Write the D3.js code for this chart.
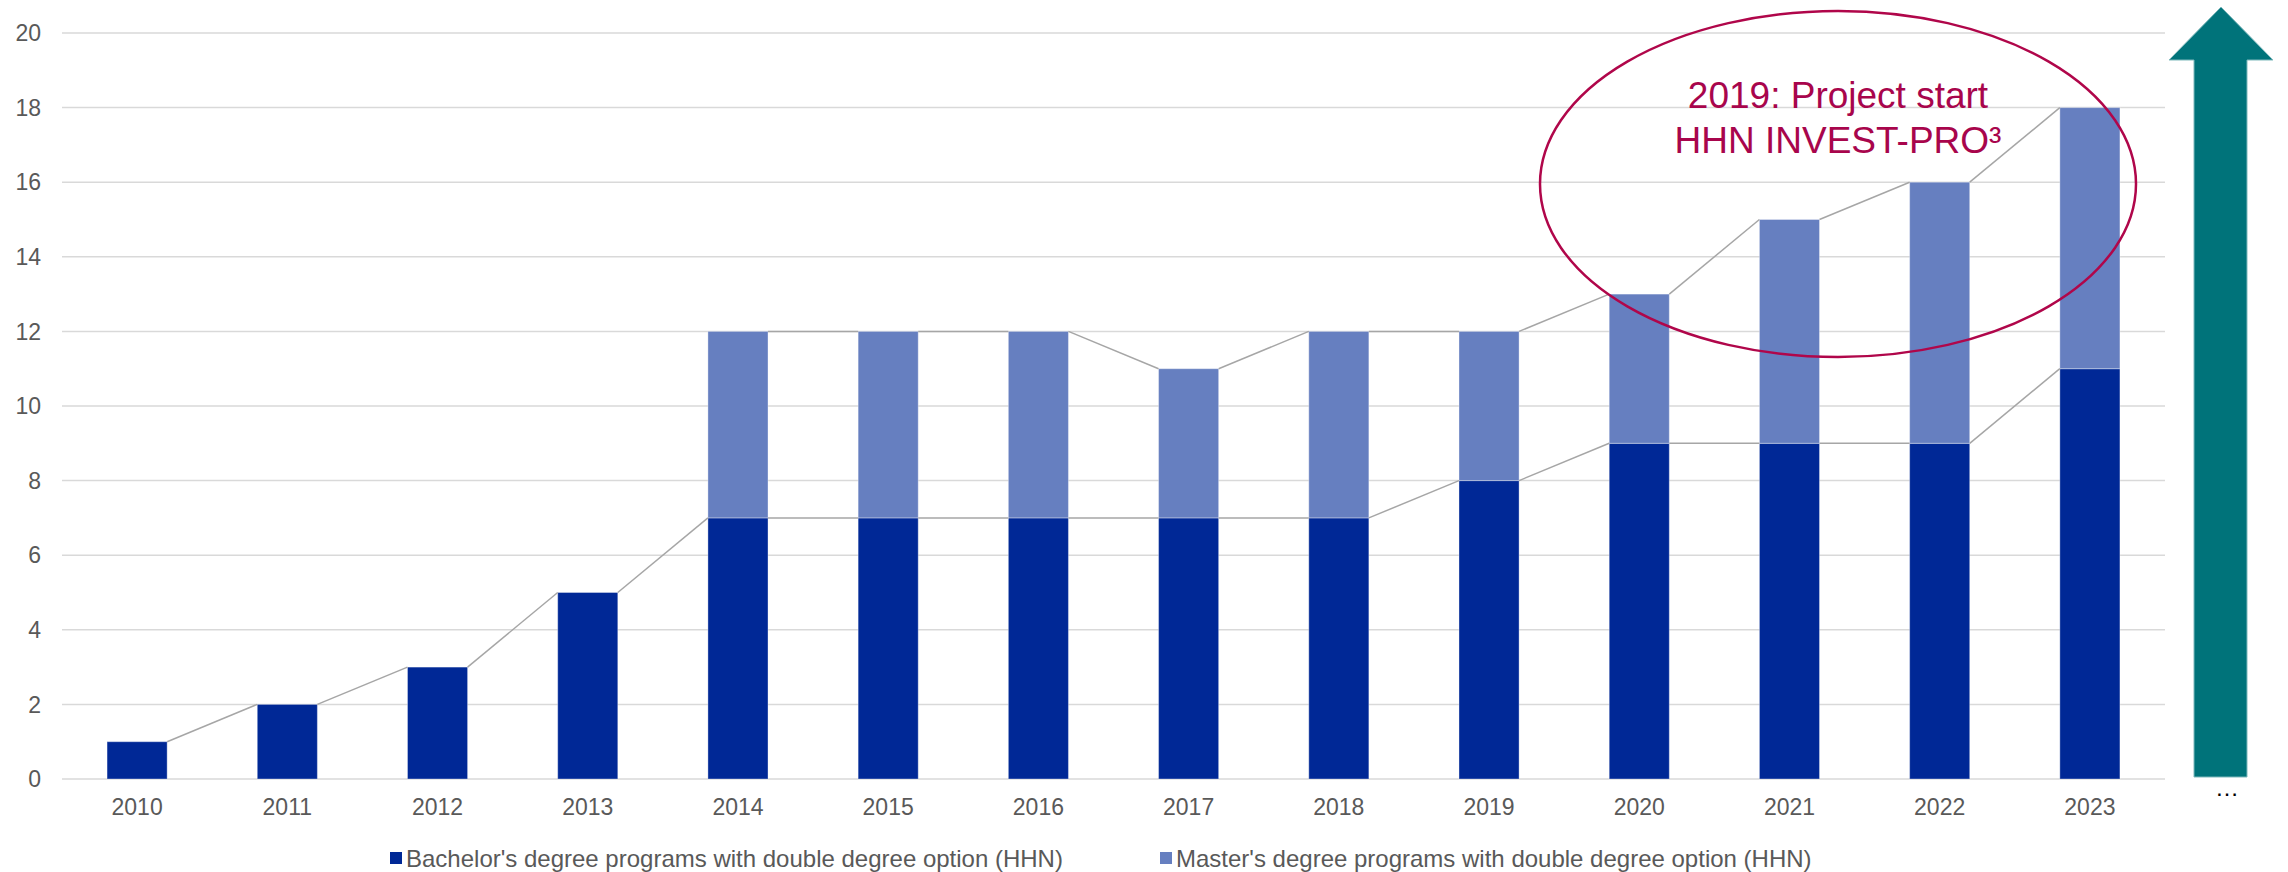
<!DOCTYPE html>
<html>
<head>
<meta charset="utf-8">
<script src="https://cdn.jsdelivr.net/npm/d3@7"></script>
<style>
  html, body { margin: 0; padding: 0; background: #ffffff; }
  svg { display: block; }
</style>
</head>
<body>
<svg id="chart" width="2288" height="872"></svg>
<script>
const years = ["2010","2011","2012","2013","2014","2015","2016","2017","2018","2019","2020","2021","2022","2023"];
const bachelor = [1,2,3,5,7,7,7,7,7,8,9,9,9,11];
const master = [0,0,0,0,5,5,5,4,5,4,4,6,7,7];
const yTicks = [0,2,4,6,8,10,12,14,16,18,20];
const seriesNames = ["Bachelor's degree programs with double degree option (HHN)", "Master's degree programs with double degree option (HHN)"];
const annotationLines = ["2019: Project start", "HHN INVEST-PRO³"];

const colors = { bachelor: "#002896", master: "#667FC0" };
const W = 2288, H = 872;
const plot = { left: 62, right: 2165, top: 33, bottom: 779 };

const svg = d3.select("#chart");

const x = d3.scaleBand().domain(years).range([plot.left, plot.right]).paddingInner(0.6).paddingOuter(0.3);
const y = d3.scaleLinear().domain([0, 20]).range([plot.bottom, plot.top]);

// gridlines
svg.append("g").selectAll("line").data(yTicks).join("line")
  .attr("x1", plot.left).attr("x2", plot.right)
  .attr("y1", d => y(d)).attr("y2", d => y(d))
  .attr("stroke", "#D9D9D9").attr("stroke-width", 1.5);

// y labels
svg.append("g").selectAll("text").data(yTicks).join("text")
  .attr("x", 41).attr("y", d => y(d)).attr("dy", "0.36em")
  .attr("text-anchor", "end")
  .attr("font-family", "Liberation Sans, Arial, sans-serif")
  .attr("font-size", 23).attr("fill", "#595959")
  .text(d => d);

// x labels
svg.append("g").selectAll("text").data(years).join("text")
  .attr("x", d => x(d) + x.bandwidth() / 2).attr("y", 815)
  .attr("text-anchor", "middle")
  .attr("font-family", "Liberation Sans, Arial, sans-serif")
  .attr("font-size", 23).attr("fill", "#595959")
  .text(d => d);

// stacked data
const rows = years.map((yr, i) => ({ year: yr, bachelor: bachelor[i], master: master[i] }));
const stack = d3.stack().keys(["bachelor", "master"])(rows);

const barG = svg.append("g");
stack.forEach(layer => {
  barG.append("g").selectAll("rect").data(layer.filter(d => d[1] - d[0] > 0)).join("rect")
    .attr("x", d => x(d.data.year))
    .attr("width", x.bandwidth())
    .attr("y", d => y(d[1]))
    .attr("height", d => y(d[0]) - y(d[1]))
    .attr("fill", colors[layer.key])
    .attr("stroke", "rgba(255,255,255,0.35)")
    .attr("stroke-width", 1);
});

// series lines (Excel style): from top-right of bar i to top-left of bar i+1
function seriesSegments(layer, valid) {
  const segs = [];
  for (let i = 0; i < layer.length - 1; i++) {
    if (!valid(i) || !valid(i + 1)) continue;
    segs.push({
      x1: x(years[i]) + x.bandwidth(), y1: y(layer[i][1]),
      x2: x(years[i + 1]), y2: y(layer[i + 1][1])
    });
  }
  return segs;
}
const segs = seriesSegments(stack[0], i => bachelor[i] > 0)
  .concat(seriesSegments(stack[1], i => master[i] > 0));
svg.append("g").selectAll("line").data(segs).join("line")
  .attr("x1", d => d.x1).attr("y1", d => d.y1)
  .attr("x2", d => d.x2).attr("y2", d => d.y2)
  .attr("stroke", "#A6A6A6").attr("stroke-width", 1.5);

// annotation ellipse
svg.append("ellipse")
  .attr("cx", 1838).attr("cy", 184).attr("rx", 298).attr("ry", 173)
  .attr("fill", "none").attr("stroke", "#B0064A").attr("stroke-width", 2.5);

svg.append("g").selectAll("text").data(annotationLines).join("text")
  .attr("x", 1838).attr("y", (d, i) => 108 + i * 45)
  .attr("text-anchor", "middle")
  .attr("font-family", "Liberation Sans, Arial, sans-serif")
  .attr("font-size", 37).attr("fill", "#A8054C")
  .text(d => d);

// teal arrow
const arrowPts = [[2194, 777], [2194, 60], [2169, 60], [2221, 7], [2273, 60], [2247, 60], [2247, 777]];
svg.append("path")
  .attr("d", d3.line()(arrowPts) + "Z")
  .attr("fill", "#00737A").attr("stroke", "#7FB9BC").attr("stroke-width", 1);

svg.append("text")
  .attr("x", 2227).attr("y", 796)
  .attr("text-anchor", "middle")
  .attr("font-family", "Liberation Sans, Arial, sans-serif")
  .attr("font-size", 24).attr("fill", "#000000")
  .text("…");

// legend
const legendItems = [
  { name: seriesNames[0], color: colors.bachelor, x: 390 },
  { name: seriesNames[1], color: colors.master, x: 1160 }
];
const lg = svg.append("g");
legendItems.forEach(it => {
  lg.append("rect").attr("x", it.x).attr("y", 852).attr("width", 12).attr("height", 12).attr("fill", it.color);
  lg.append("text").attr("x", it.x + 16).attr("y", 867)
    .attr("font-family", "Liberation Sans, Arial, sans-serif")
    .attr("font-size", 24).attr("fill", "#595959")
    .text(it.name);
});
</script>
</body>
</html>
